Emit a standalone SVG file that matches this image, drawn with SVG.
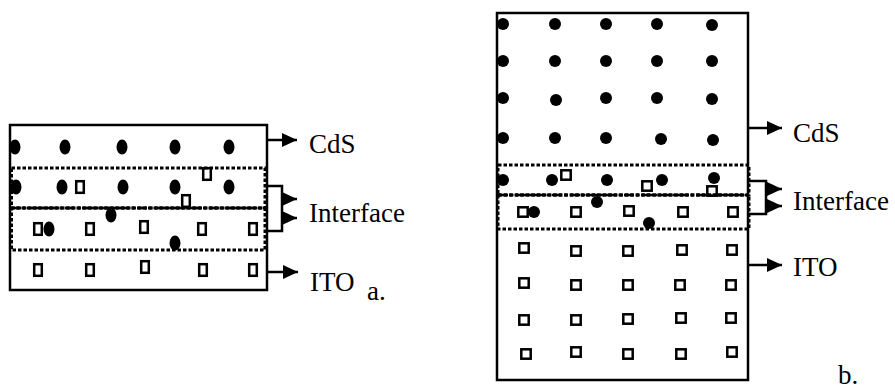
<svg xmlns="http://www.w3.org/2000/svg" width="895" height="390" viewBox="0 0 895 390">
<style>
.box{fill:none;stroke:#000;stroke-width:2.5}
.dot{fill:#000}
.sq{fill:none;stroke:#000;stroke-width:2.5}
.dt{fill:none;stroke:#000;stroke-width:3;stroke-dasharray:3.5 2}
.dd{fill:none;stroke:#000;stroke-width:2.5;stroke-dasharray:10 2.5 3 2.5}
.ln{fill:none;stroke:#000;stroke-width:2.5}
.lb{font-family:"Liberation Serif","Times New Roman",serif;font-size:27px;fill:#000}
</style>
<defs>
<marker id="ah" markerUnits="userSpaceOnUse" markerWidth="15" markerHeight="14" refX="15" refY="7" orient="auto">
<path d="M0,0 L15,7 L0,14 Z" fill="#000"/>
</marker>
<ellipse id="ea" rx="5.5" ry="7.5"/>
<rect id="qa" x="-3.8" y="-5.8" width="7.6" height="11.6"/>
<circle id="cb" r="6"/>
<rect id="qb" x="-4.7" y="-4.7" width="9.4" height="9.4"/>
</defs>

<g id="panel-a">
<g id="a-cds-layer">
<use href="#ea" class="dot" x="15" y="147"/>
<use href="#ea" class="dot" x="65" y="147"/>
<use href="#ea" class="dot" x="122" y="147"/>
<use href="#ea" class="dot" x="175" y="147"/>
<use href="#ea" class="dot" x="229" y="147"/>
</g>
<g id="a-interface">
<rect class="dt" x="11.5" y="168" width="253.5" height="40"/>
<rect class="dt" x="11.5" y="208" width="253.5" height="42"/>
<line class="dd" x1="11" y1="208" x2="265" y2="208"/>
<use href="#ea" class="dot" x="16" y="187"/>
<use href="#ea" class="dot" x="62" y="187"/>
<use href="#ea" class="dot" x="123" y="187"/>
<use href="#ea" class="dot" x="175" y="187"/>
<use href="#ea" class="dot" x="229" y="187"/>
<use href="#qa" class="sq" x="80" y="187"/>
<use href="#qa" class="sq" x="207" y="174"/>
<use href="#qa" class="sq" x="186" y="201"/>
<use href="#ea" class="dot" x="111" y="215"/>
<use href="#ea" class="dot" x="49" y="229"/>
<use href="#ea" class="dot" x="175" y="243"/>
<use href="#qa" class="sq" x="38" y="229"/>
<use href="#qa" class="sq" x="90" y="229"/>
<use href="#qa" class="sq" x="144" y="227"/>
<use href="#qa" class="sq" x="202" y="229"/>
<use href="#qa" class="sq" x="253" y="229"/>
</g>
<g id="a-ito-layer">
<use href="#qa" class="sq" x="38" y="270"/>
<use href="#qa" class="sq" x="90" y="270"/>
<use href="#qa" class="sq" x="145" y="267"/>
<use href="#qa" class="sq" x="203" y="270"/>
<use href="#qa" class="sq" x="253" y="270"/>
</g>
<rect id="a-box" class="box" x="10" y="125" width="257" height="165"/>
</g>

<g id="panel-b">
<g id="b-cds-layer">
<use href="#cb" class="dot" x="503" y="24"/>
<use href="#cb" class="dot" x="555" y="24"/>
<use href="#cb" class="dot" x="606" y="24"/>
<use href="#cb" class="dot" x="657" y="24"/>
<use href="#cb" class="dot" x="712" y="25"/>
<use href="#cb" class="dot" x="503" y="61"/>
<use href="#cb" class="dot" x="555" y="61"/>
<use href="#cb" class="dot" x="606" y="61"/>
<use href="#cb" class="dot" x="657" y="61"/>
<use href="#cb" class="dot" x="712" y="61"/>
<use href="#cb" class="dot" x="503" y="98"/>
<use href="#cb" class="dot" x="556" y="100"/>
<use href="#cb" class="dot" x="606" y="98"/>
<use href="#cb" class="dot" x="657" y="98"/>
<use href="#cb" class="dot" x="712" y="99"/>
<use href="#cb" class="dot" x="503" y="138"/>
<use href="#cb" class="dot" x="555" y="138"/>
<use href="#cb" class="dot" x="606" y="138"/>
<use href="#cb" class="dot" x="661" y="139"/>
<use href="#cb" class="dot" x="713" y="140"/>
</g>
<g id="b-interface">
<rect class="dt" x="498" y="165" width="251" height="30"/>
<rect class="dt" x="498" y="195" width="251" height="34"/>
<line class="dd" x1="498" y1="195" x2="749" y2="195"/>
<use href="#cb" class="dot" x="503" y="180"/>
<use href="#cb" class="dot" x="552" y="180"/>
<use href="#cb" class="dot" x="607" y="180"/>
<use href="#cb" class="dot" x="662" y="180"/>
<use href="#cb" class="dot" x="714" y="178"/>
<use href="#qb" class="sq" x="566" y="175"/>
<use href="#qb" class="sq" x="647" y="186"/>
<use href="#qb" class="sq" x="712" y="191"/>
<use href="#cb" class="dot" x="597" y="202"/>
<use href="#cb" class="dot" x="534" y="212"/>
<use href="#cb" class="dot" x="649" y="223"/>
<use href="#qb" class="sq" x="523" y="212"/>
<use href="#qb" class="sq" x="576" y="212"/>
<use href="#qb" class="sq" x="629" y="211"/>
<use href="#qb" class="sq" x="683" y="212"/>
<use href="#qb" class="sq" x="733" y="212"/>
</g>
<g id="b-ito-layer">
<use href="#qb" class="sq" x="524" y="248"/>
<use href="#qb" class="sq" x="576" y="251"/>
<use href="#qb" class="sq" x="628" y="251"/>
<use href="#qb" class="sq" x="682" y="250"/>
<use href="#qb" class="sq" x="732" y="250"/>
<use href="#qb" class="sq" x="524" y="283"/>
<use href="#qb" class="sq" x="576" y="285"/>
<use href="#qb" class="sq" x="628" y="285"/>
<use href="#qb" class="sq" x="680" y="285"/>
<use href="#qb" class="sq" x="731" y="285"/>
<use href="#qb" class="sq" x="524" y="320"/>
<use href="#qb" class="sq" x="576" y="320"/>
<use href="#qb" class="sq" x="628" y="319"/>
<use href="#qb" class="sq" x="681" y="318"/>
<use href="#qb" class="sq" x="731" y="318"/>
<use href="#qb" class="sq" x="526" y="354"/>
<use href="#qb" class="sq" x="576" y="352"/>
<use href="#qb" class="sq" x="628" y="354"/>
<use href="#qb" class="sq" x="681" y="354"/>
<use href="#qb" class="sq" x="732" y="352"/>
</g>
<rect id="b-box" class="box" x="497" y="13" width="251" height="367"/>
</g>

<g id="connectors">
<line class="ln" x1="267" y1="140" x2="297" y2="140" marker-end="url(#ah)"/>
<path class="ln" d="M267,186 H282 V231 H267"/>
<line class="ln" x1="281" y1="199" x2="297" y2="199" marker-end="url(#ah)"/>
<line class="ln" x1="281" y1="218" x2="297" y2="218" marker-end="url(#ah)"/>
<line class="ln" x1="267" y1="272" x2="298" y2="272" marker-end="url(#ah)"/>
<line class="ln" x1="748" y1="128" x2="782" y2="128" marker-end="url(#ah)"/>
<path class="ln" d="M748,181 H766 V214 H748"/>
<line class="ln" x1="765" y1="189" x2="782" y2="189" marker-end="url(#ah)"/>
<line class="ln" x1="765" y1="206" x2="782" y2="206" marker-end="url(#ah)"/>
<line class="ln" x1="748" y1="265" x2="782" y2="265" marker-end="url(#ah)"/>
</g>

<g id="labels">
<text class="lb" x="309" y="153">CdS</text>
<text class="lb" x="309" y="222">Interface</text>
<text class="lb" x="310" y="291">ITO</text>
<text class="lb" x="367" y="300">a.</text>
<text class="lb" x="793" y="142">CdS</text>
<text class="lb" x="793" y="210">Interface</text>
<text class="lb" x="793" y="276">ITO</text>
<text class="lb" x="838" y="384">b.</text>
</g>
</svg>
